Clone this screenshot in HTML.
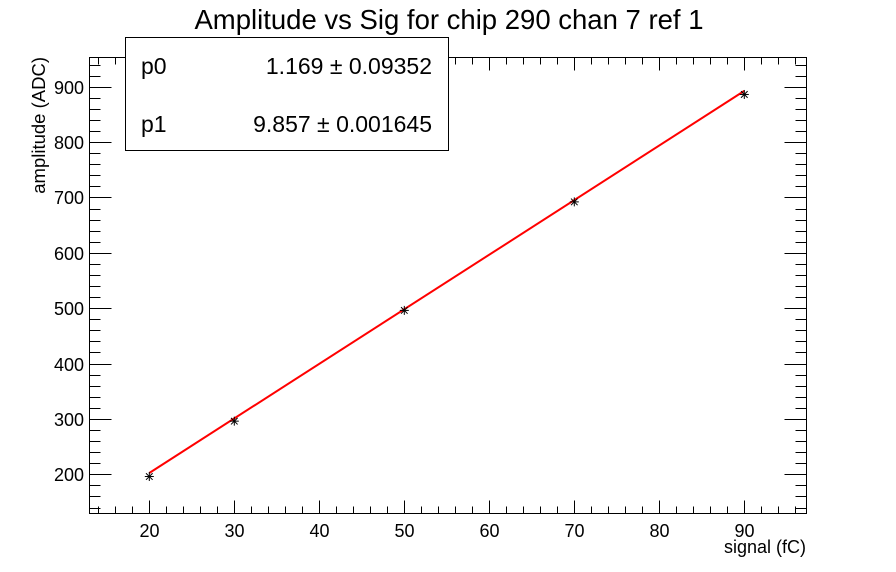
<!DOCTYPE html>
<html><head><meta charset="utf-8"><style>
html,body{margin:0;padding:0;background:#fff;}
svg{display:block;font-family:"Liberation Sans",sans-serif;}
</style></head><body>
<svg id="s" width="896" height="572" viewBox="0 0 896 572" xmlns="http://www.w3.org/2000/svg">
<rect width="896" height="572" fill="#fff"/>
<text x="449" y="29" font-size="27.5" text-anchor="middle">Amplitude vs Sig for chip 290 chan 7 ref 1</text>
<rect x="89.5" y="57.5" width="717" height="456" fill="none" stroke="#000" stroke-width="1"/>
<g id="ticks" stroke="#000" stroke-width="1"></g>
<g id="labels" font-size="18"></g>
<text x="806" y="553" font-size="18" text-anchor="end">signal (fC)</text>
<text transform="translate(45,57) rotate(-90)" font-size="18.5" text-anchor="end">amplitude (ADC)</text>
<line x1="149.3" y1="473.0" x2="744.3" y2="90.9" stroke="#f00" stroke-width="2"/>
<g id="pts" stroke="#000" stroke-width="1"></g>
<rect x="125.5" y="37.5" width="323" height="113" fill="#fff" stroke="#000" stroke-width="1"/>
<text x="141" y="74" font-size="23">p0</text>
<text x="432" y="74" font-size="23" text-anchor="end">1.169 ± 0.09352</text>
<text x="141" y="132" font-size="23">p1</text>
<text x="432" y="132" font-size="23" text-anchor="end">9.857 ± 0.001645</text>
</svg>
<script>
var NS="http://www.w3.org/2000/svg";
function X(v){return 149.3+(v-20)*8.5;}
function Y(v){return 474.3-(v-200)*0.5537;}
var t=document.getElementById("ticks"),l=document.getElementById("labels"),p=document.getElementById("pts");
function ln(g,a,b,c,d){var e=document.createElementNS(NS,"line");e.setAttribute("x1",a);e.setAttribute("y1",b);e.setAttribute("x2",c);e.setAttribute("y2",d);g.appendChild(e);}
function tx(x,y,s,anc){var e=document.createElementNS(NS,"text");e.setAttribute("x",x);e.setAttribute("y",y);e.setAttribute("text-anchor",anc);e.textContent=s;l.appendChild(e);}
for(var v=140;v<=940;v+=20){var y=Math.round(Y(v))+0.5;var M=(v%100==0);var L=M?22:11;ln(t,89.5,y,89.5+L,y);ln(t,806.5,y,806.5-L,y);if(M)tx(84,y+6.5,String(v),"end");}
for(var v=14;v<=96;v+=2){var x=Math.round(X(v))+0.5;var M=(v%10==0);var L=M?13:7;ln(t,x,513.5,x,513.5-L);ln(t,x,57.5,x,57.5+L);if(M&&v>=20&&v<=90)tx(x,537,String(v),"middle");}
[[20,196],[30,296],[50,496],[70,692],[90,886]].forEach(function(d){var x=X(d[0]),y=Y(d[1]),r=4.5;ln(p,x-r,y,x+r,y);ln(p,x,y-r,x,y+r);ln(p,x-3.3,y-3.3,x+3.3,y+3.3);ln(p,x-3.3,y+3.3,x+3.3,y-3.3);});
</script>
</body></html>
